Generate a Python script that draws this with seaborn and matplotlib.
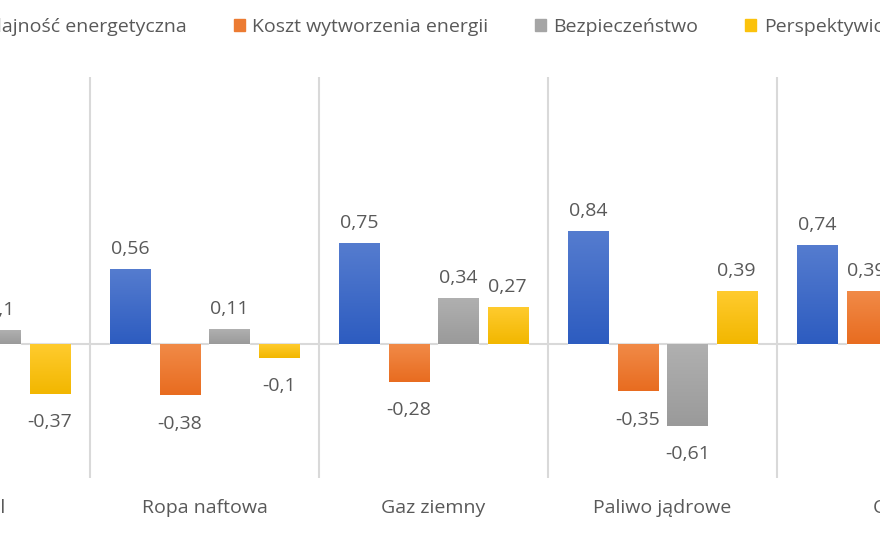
import numpy as np
import pandas as pd
import matplotlib
matplotlib.use("Agg")
import matplotlib.pyplot as plt
import seaborn as sns
from matplotlib.patches import Patch
from matplotlib.colors import LinearSegmentedColormap

sns.set_theme(style="white")
plt.rcParams['font.family'] = ['Open Sans', 'DejaVu Sans']

# dane
categories = ['Węgiel', 'Ropa naftowa', 'Gaz ziemny', 'Paliwo jądrowe', 'OZE']
series = ['Wydajność energetyczna', 'Koszt wytworzenia energii',
          'Bezpieczeństwo', 'Perspektywiczność']
wydajnosc = [0.62, 0.56, 0.75, 0.84, 0.74]
koszt = [-0.30, -0.38, -0.28, -0.35, 0.39]
bezpieczenstwo = [0.10, 0.11, 0.34, -0.61, 0.45]
perspektywy = [-0.37, -0.10, 0.27, 0.39, 0.80]
colors = ['#3F6BC9', '#EC7B32', '#A5A5A5', '#FBC20C']
# gradient: jasny u góry, ciemniejszy u dołu (jak w Excelu)
grad_top = ['#557CCF', '#F18A47', '#B0B0B0', '#FFCB2E']
grad_bot = ['#2D5CC0', '#E86C20', '#9A9A9A', '#F2B700']

values = [wydajnosc, koszt, bezpieczenstwo, perspektywy]
df = pd.DataFrame({
    'kat': np.repeat([categories], len(series), axis=0).ravel(),
    'seria': np.repeat(series, len(categories)),
    'wartosc': np.concatenate(values),
})

fig = plt.figure(figsize=(8.8, 5.4), dpi=100)
ax = fig.add_axes([0, 1 - 478 / 540, 1, 401 / 540])

sns.barplot(data=df, x='kat', y='wartosc', hue='seria', order=categories,
            hue_order=series, palette=colors, width=0.865, gap=0.19,
            saturation=1, legend=False, ax=ax)

grad = np.linspace(0, 1, 128).reshape(-1, 1)
for i, cont in enumerate(ax.containers):
    cmap = LinearSegmentedColormap.from_list(f'g{i}', [grad_top[i], grad_bot[i]])
    for bar in cont:
        bb = bar.get_bbox()
        ax.imshow(grad, cmap=cmap, aspect='auto', origin='upper',
                  extent=[bb.x0, bb.x1, min(bb.y0, bb.y1), max(bb.y0, bb.y1)],
                  zorder=bar.get_zorder() + 0.1)

# etykiety danych
for cont, vals in zip(ax.containers, values):
    for bar, v in zip(cont, vals):
        txt = f"{v:g}".replace('.', ',')
        x = bar.get_x() + bar.get_width() / 2
        ax.annotate(txt, (x, v), xytext=(0, 8.5 if v >= 0 else -14),
                    textcoords='offset points', ha='center',
                    va='bottom' if v >= 0 else 'top',
                    fontsize=14, color='#595959')

ax.axhline(0, color='#D9D9D9', lw=1.5, zorder=0.5)
ax.set_xticks(np.arange(-0.5, len(categories)), minor=True)
ax.grid(which='minor', axis='x', color='#D9D9D9', lw=1.5)
ax.tick_params(which='both', length=0)
ax.set_yticks([])
ax.set_xlabel('')
ax.set_ylabel('')
for s in ax.spines.values():
    s.set_visible(False)
# etykiety kategorii (także te częściowo poza kadrem)
ax.set_xticks([])
for i, cat in enumerate(categories):
    ax.annotate(cat, (i, 0), xycoords=('data', 'axes fraction'),
                xytext=(0, -21.6), textcoords='offset points',
                ha='center', va='center', fontsize=14, color='#595959',
                annotation_clip=False)
ax.set_xlim(0.107, 3.95)
ax.set_ylim(-1, 2)

handles = [Patch(color=c) for c in colors]
fig.legend(handles, series, loc='center', bbox_to_anchor=(0.499, 1 - 27 / 540),
           ncol=4, frameon=False, fontsize=14, labelcolor='#595959',
           handlelength=0.55, handleheight=0.55, handletextpad=0.4,
           columnspacing=2.4)

fig.savefig('out.png', dpi=100)
